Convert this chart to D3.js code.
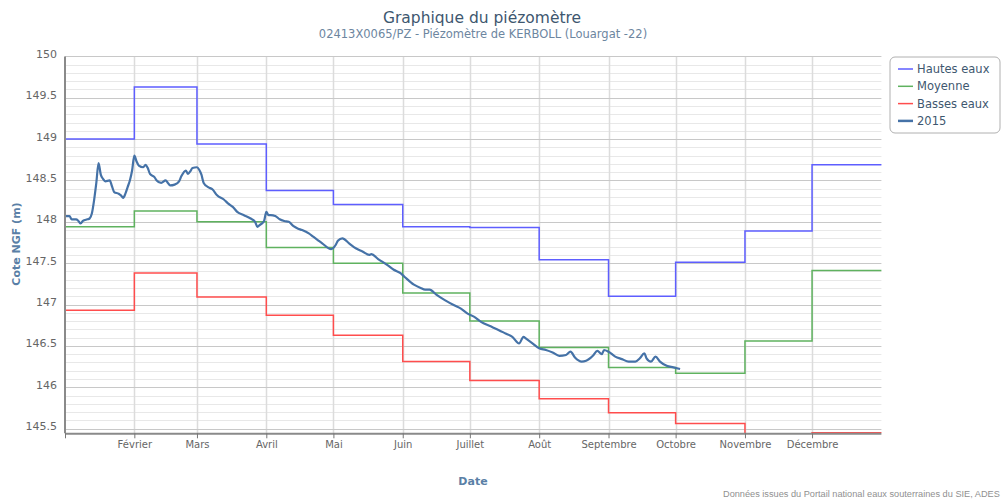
<!DOCTYPE html>
<html>
<head>
<meta charset="utf-8">
<script src="https://cdn.jsdelivr.net/npm/d3@7"></script>
<style>
  body { margin: 0; background: #fff; }
  svg { font-family: "DejaVu Sans", sans-serif; }
</style>
</head>
<body>
<svg id="graphique" width="1008" height="502"></svg>
<script>
// mois (1er de chaque mois 2015)
const mois = ["2015-01-01","2015-02-01","2015-03-01","2015-04-01","2015-05-01","2015-06-01",
              "2015-07-01","2015-08-01","2015-09-01","2015-10-01","2015-11-01","2015-12-01"];
const moisLabels = ["", "Février", "Mars", "Avril", "Mai", "Juin", "Juillet", "Août",
                    "Septembre", "Octobre", "Novembre", "Décembre"];

const hautesEaux = [149.00, 149.63, 148.94, 148.38, 148.21, 147.94, 147.93, 147.54, 147.10, 147.51, 147.89, 148.69];
const moyenne    = [147.94, 148.13, 148.00, 147.69, 147.50, 147.14, 146.80, 146.48, 146.24, 146.17, 146.56, 147.41];
const bassesEaux = [146.93, 147.38, 147.09, 146.87, 146.63, 146.31, 146.08, 145.86, 145.69, 145.56, 145.35, 145.45];

// chronique 2015 : jour depuis le 1er janvier, cote
const jours = [0,2,3,5,6,7,8,10,11,12,13,14,15,16,17,18,20,21,22,24,25,26,27,28,29,30,31,32,33,35,36,37,38,
  40,41,43,45,46,47,49,51,52,54,55,56,57,59,60,61,62,64,66,68,71,73,75,77,80,83,85,86,87,89,90,91,92,94,96,
  98,100,102,104,106,109,111,113,115,119,121,122,124,127,130,133,136,137,140,144,147,150,152,156,159,161,163,
  166,170,174,177,180,183,186,190,194,197,200,203,205,206,209,212,215,218,221,224,226,228,231,233,236,238,240,
  241,243,246,249,252,255,257,259,260,262,264,266,269,272,275];
const cotes2015 = [148.07,148.07,148.03,148.03,148.01,147.98,148.01,148.03,148.04,148.10,148.26,148.47,148.71,
  148.57,148.52,148.49,148.50,148.43,148.36,148.34,148.32,148.29,148.34,148.42,148.50,148.62,148.80,148.73,148.68,
  148.66,148.69,148.65,148.58,148.54,148.50,148.47,148.50,148.47,148.44,148.45,148.49,148.55,148.62,148.58,148.61,
  148.65,148.66,148.63,148.57,148.47,148.42,148.39,148.32,148.27,148.22,148.18,148.12,148.08,148.04,148.00,147.94,
  147.96,148.01,148.12,148.08,148.08,148.07,148.03,148.01,148.00,147.95,147.92,147.90,147.86,147.82,147.78,147.74,
  147.67,147.72,147.77,147.80,147.74,147.68,147.64,147.60,147.61,147.55,147.48,147.42,147.38,147.33,147.24,147.20,
  147.18,147.18,147.12,147.05,146.99,146.95,146.89,146.85,146.79,146.74,146.69,146.65,146.61,146.53,146.61,146.59,
  146.53,146.47,146.45,146.42,146.38,146.39,146.43,146.36,146.31,146.32,146.38,146.44,146.40,146.45,146.43,146.37,
  146.34,146.31,146.31,146.35,146.41,146.35,146.31,146.37,146.31,146.26,146.24,146.22];

const svg = d3.select("#graphique");
const parse = d3.timeParse("%Y-%m-%d");
const debut = parse("2015-01-01");
const fin = parse("2016-01-01");

const gauche = 65, droite = 881.4, haut = 56.4, bas = 433.3;
const x = d3.scaleTime().domain([debut, fin]).range([gauche, droite]);
const y = d3.scaleLinear().domain([145.443, 150]).range([bas, haut]);

// grille mineure
const mineurs = d3.range(1455, 1501).map(v => v / 10);
svg.append("g").selectAll("line").data(mineurs.filter(v => Math.round(v * 10) % 5 !== 0)).join("line")
  .attr("x1", gauche).attr("x2", droite)
  .attr("y1", d => Math.round(y(d)) + 0.5).attr("y2", d => Math.round(y(d)) + 0.5)
  .attr("stroke", "#e8e8e8").attr("stroke-width", 1);

// grille verticale (mois)
svg.append("g").selectAll("line").data(mois.slice(1)).join("line")
  .attr("x1", d => Math.round(x(parse(d))) + 0.5).attr("x2", d => Math.round(x(parse(d))) + 0.5)
  .attr("y1", haut).attr("y2", bas)
  .attr("stroke", "#dcdcdc").attr("stroke-width", 1.5);

// grille majeure
const majeurs = mineurs.filter(v => Math.round(v * 10) % 5 === 0);
svg.append("g").selectAll("line").data(majeurs).join("line")
  .attr("x1", gauche).attr("x2", droite)
  .attr("y1", d => Math.round(y(d)) + 0.5).attr("y2", d => Math.round(y(d)) + 0.5)
  .attr("stroke", "#c8c8c8").attr("stroke-width", 1.2);

// axe Y
const axeY = d3.axisLeft(y).tickValues(majeurs).tickSize(0).tickPadding(8)
  .tickFormat(d => d3.format("")(+d.toFixed(1)));
svg.append("g").attr("transform", `translate(${gauche},0)`).call(axeY)
  .call(g => g.select(".domain").remove())
  .call(g => g.selectAll("text").attr("fill", "#666").attr("font-size", 11)
    .attr("dy", "0.1em").attr("font-family", "DejaVu Sans"));

// clip
svg.append("clipPath").attr("id", "zone").append("rect")
  .attr("x", gauche).attr("y", haut - 2).attr("width", droite - gauche + 2).attr("height", bas - haut + 2);

// séries en escalier
function escalier(valeurs) {
  const pts = mois.map((m, i) => [parse(m), valeurs[i]]);
  pts.push([fin, valeurs[valeurs.length - 1]]);
  return pts;
}
const ligneEsc = d3.line().x(d => x(d[0])).y(d => y(d[1])).curve(d3.curveStepAfter);

const series = [
  { nom: "Hautes eaux", valeurs: hautesEaux, couleur: "#5e5eff" },
  { nom: "Moyenne", valeurs: moyenne, couleur: "#5fb25f" },
  { nom: "Basses eaux", valeurs: bassesEaux, couleur: "#ff4d4d" }
];
const gSeries = svg.append("g").attr("clip-path", "url(#zone)");
series.forEach(s => {
  gSeries.append("path").datum(escalier(s.valeurs))
    .attr("d", ligneEsc).attr("fill", "none")
    .attr("stroke", s.couleur).attr("stroke-width", 1.5);
});

// chronique 2015
const donnees2015 = jours.map((j, i) => [d3.timeDay.offset(debut, j), cotes2015[i]]);
gSeries.append("path").datum(donnees2015)
  .attr("d", d3.line().x(d => x(d[0])).y(d => y(d[1])).curve(d3.curveMonotoneX))
  .attr("fill", "none").attr("stroke", "#4572A7").attr("stroke-width", 2.2)
  .attr("stroke-linejoin", "round");

// axe gauche
svg.append("line").attr("x1", gauche).attr("x2", gauche).attr("y1", haut).attr("y2", bas)
  .attr("stroke", "#8a8a8a").attr("stroke-width", 2);

// axe X
const axeX = d3.axisBottom(x).tickValues(mois.map(parse)).tickSize(5).tickPadding(3)
  .tickFormat((d, i) => moisLabels[i]);
svg.append("g").attr("transform", `translate(0,${bas})`).call(axeX)
  .call(g => g.select(".domain").attr("stroke", "#8a8a8a").attr("stroke-width", 2)
    .attr("d", `M${gauche},0.5H${droite}`))
  .call(g => g.selectAll(".tick line").attr("stroke", "#777"))
  .call(g => g.selectAll("text").attr("fill", "#666").attr("font-size", 10)
    .attr("font-family", "DejaVu Sans"));

// titres
svg.append("text").attr("x", 482).attr("y", 23).attr("text-anchor", "middle")
  .attr("fill", "#3E576F").attr("font-size", 15.5).text("Graphique du piézomètre");
svg.append("text").attr("x", 483).attr("y", 38).attr("text-anchor", "middle")
  .attr("fill", "#6D869F").attr("font-size", 11.5)
  .text("02413X0065/PZ - Piézomètre de KERBOLL (Louargat -22)");

svg.append("text").attr("transform", "translate(20,244) rotate(-90)").attr("text-anchor", "middle")
  .attr("fill", "#5a7fa6").attr("font-size", 11).attr("font-weight", "bold").text("Cote NGF (m)");
svg.append("text").attr("x", 473).attr("y", 485).attr("text-anchor", "middle")
  .attr("fill", "#5a7fa6").attr("font-size", 11).attr("font-weight", "bold").text("Date");

svg.append("text").attr("x", 723).attr("y", 497).attr("font-family", "Liberation Sans")
  .attr("fill", "#909090").attr("font-size", 9.2).text("Données issues du Portail national eaux souterraines du SIE, ADES");

// légende
const legende = svg.append("g").attr("transform", "translate(890,57)");
legende.append("rect").attr("width", 110).attr("height", 76).attr("rx", 5)
  .attr("fill", "#fff").attr("stroke", "#b0b0b0").attr("stroke-width", 1);
const itemsLegende = series.map(s => ({ nom: s.nom, couleur: s.couleur, w: 1.5 }))
  .concat([{ nom: "2015", couleur: "#4572A7", w: 2.5 }]);
itemsLegende.forEach((it, i) => {
  const yy = 12 + i * 17.3;
  legende.append("line").attr("x1", 8).attr("x2", 23).attr("y1", yy).attr("y2", yy)
    .attr("stroke", it.couleur).attr("stroke-width", it.w);
  legende.append("text").attr("x", 27).attr("y", yy + 4).attr("fill", "#3E576F")
    .attr("font-size", 11.5).text(it.nom);
});
</script>
</body>
</html>
